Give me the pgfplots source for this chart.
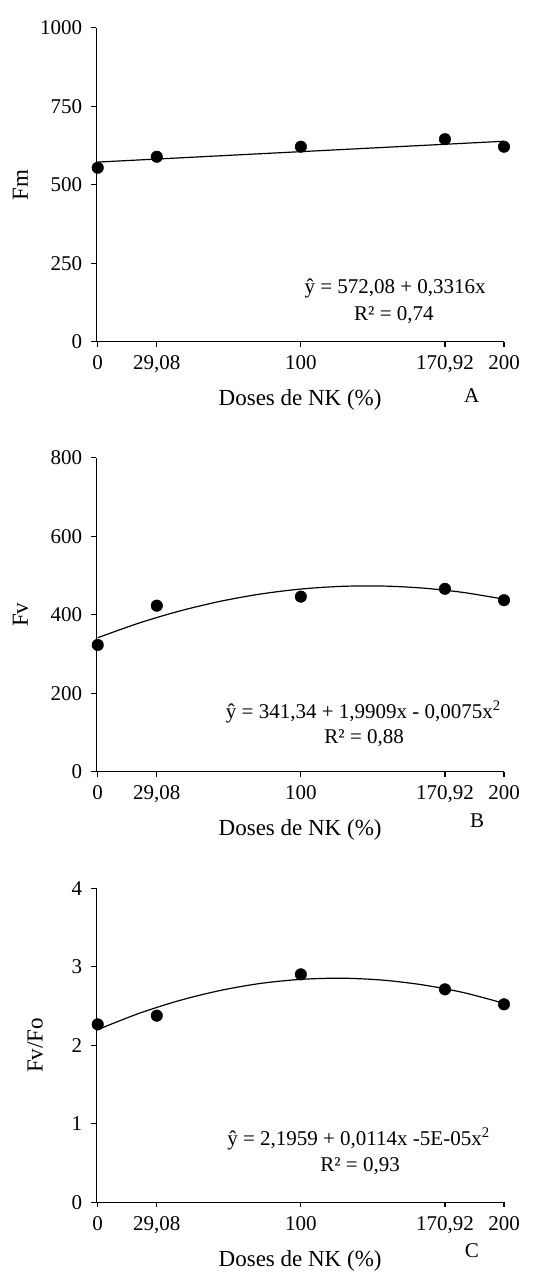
\documentclass[border=0pt]{standalone}
\usepackage{fontspec}
\setmainfont{Liberation Serif}
\usepackage{pgfplots}
\pgfplotsset{compat=1.18}

\pgfplotsset{
  nkpanel/.style={
    scale only axis,
    width=407.7pt, height=314pt,
    anchor=south west,
    xmin=-0.7, xmax=200,
    axis x line*=bottom, axis y line*=left,
    axis line style={line width=1.2pt},
    tick align=outside,
    major tick length=5pt,
    tick style={line width=1.2pt, black},
    xtick={0,29.08,100,170.92,200},
    xticklabels={0,{29,08},100,{170,92},200},
    /pgf/number format/assume math mode=true,
    /pgf/number format/set thousands separator={},
    tick label style={font=\fontsize{21}{25}\selectfont},
    xticklabel style={anchor=north, inner sep=0pt, yshift=-9pt},
    yticklabel style={anchor=east, inner sep=0pt, xshift=-9pt},
    xlabel={Doses de NK (\%)},
    xlabel style={at={(axis description cs:0.5,0)}, anchor=north, inner sep=0pt,
      yshift=-48pt, font=\fontsize{23}{27}\selectfont},
    ylabel style={anchor=center, inner sep=0pt, font=\fontsize{23}{27}\selectfont},
    clip=false,
  },
  pts/.style={only marks, mark=*, mark size=5.8pt, black},
  trend/.style={no marks, black, line width=1.2pt, smooth},
}
\tikzset{eq/.style={font=\fontsize{21}{25}\selectfont, anchor=base, inner sep=0pt}}

\begin{document}
\begin{tikzpicture}
\useasboundingbox (0pt,0pt) rectangle (553pt,-1273pt);

% A -- Fm
\begin{axis}[nkpanel, at={(96.3pt,-341.7pt)},
  ymin=0, ymax=1000, ytick={0,250,500,750,1000},
  ylabel={Fm}, ylabel style={at={(axis description cs:-0.186,0.5)}}]
\addplot[trend] coordinates {(0,572.08) (200,638.40)};
\addplot[pts] coordinates {(0,554) (29.08,589) (100,621) (170.92,645) (200,621)};
\node[eq] at (axis description cs:0.733,0.154) {ŷ = 572,08 + 0,3316x};
\node[eq] at (axis description cs:0.730,0.067) {R² = 0,74};
\node[eq] at (axis description cs:0.921,-0.194) {A};
\end{axis}

% B -- Fv
\begin{axis}[nkpanel, at={(96.3pt,-771.7pt)},
  ymin=0, ymax=800, ytick={0,200,400,600,800},
  ylabel={Fv}, ylabel style={at={(axis description cs:-0.186,0.5)}}]
\addplot[trend] coordinates {
  (0,341.34) (20,378.16) (40,408.98) (60,433.79) (80,452.61) (100,465.43)
  (120,472.25) (140,473.07) (160,467.88) (180,456.70) (200,439.52)};
\addplot[pts] coordinates {(0,323) (29.08,423) (100,446) (170.92,466) (200,437)};
\node[eq] at (axis description cs:0.655,0.170) {ŷ = 341,34 + 1,9909x - 0,0075x\textsuperscript{2}};
\node[eq] at (axis description cs:0.657,0.090) {R² = 0,88};
\node[eq] at (axis description cs:0.934,-0.178) {B};
\end{axis}

% C -- Fv/Fo
\begin{axis}[nkpanel, at={(96.3pt,-1202.3pt)},
  ymin=0, ymax=4, ytick={0,1,2,3,4},
  ylabel={Fv/Fo}, ylabel style={at={(axis description cs:-0.150,0.5)}}]
\addplot[trend] coordinates {
  (0,2.200) (20,2.404) (40,2.569) (60,2.697) (80,2.788) (100,2.840)
  (120,2.855) (140,2.831) (160,2.770) (180,2.672) (200,2.535)};
\addplot[pts] coordinates {(0,2.267) (29.08,2.378) (100,2.904) (170.92,2.713) (200,2.522)};
\node[eq] at (axis description cs:0.643,0.182) {ŷ = 2,1959 + 0,0114x -5E-05x\textsuperscript{2}};
\node[eq] at (axis description cs:0.647,0.097) {R² = 0,93};
\node[eq] at (axis description cs:0.921,-0.175) {C};
\end{axis}
\end{tikzpicture}
\end{document}
